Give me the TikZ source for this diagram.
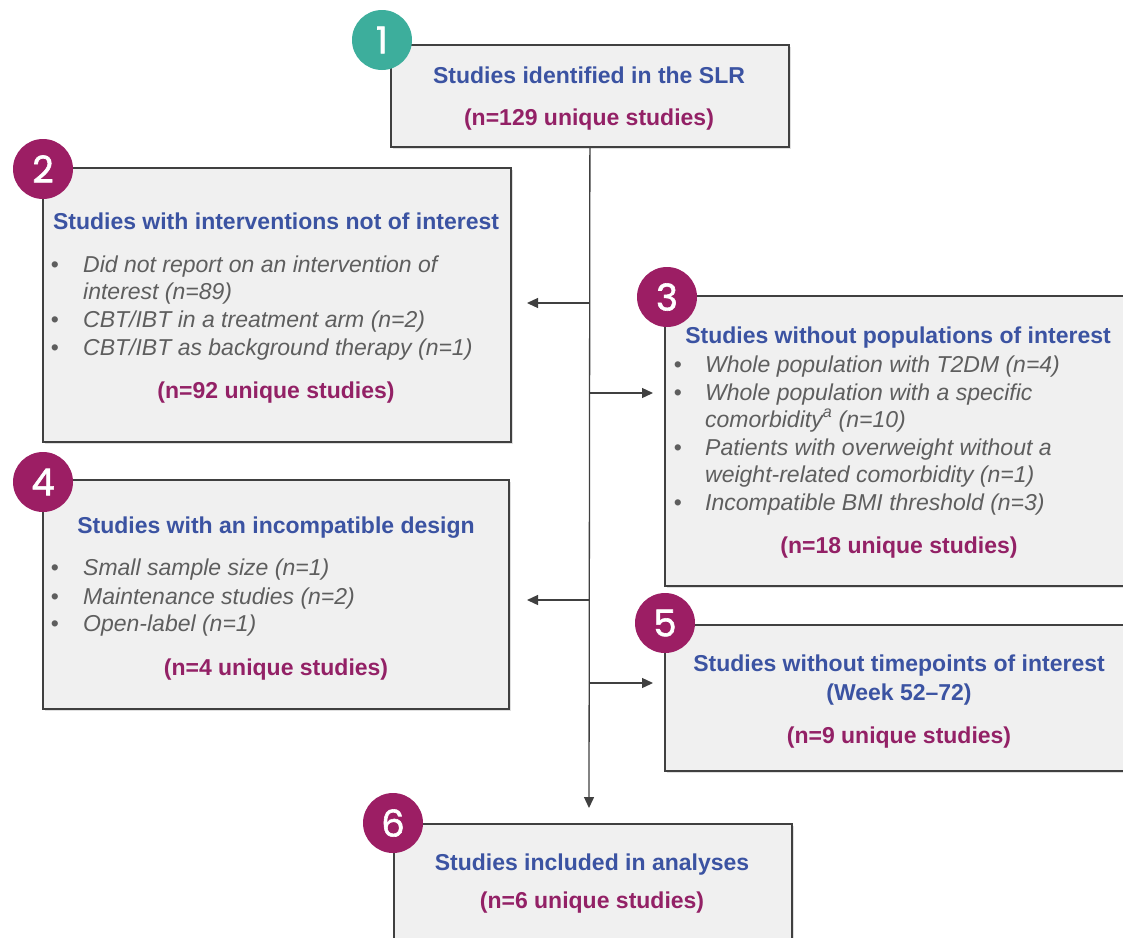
\documentclass[tikz,border=0pt]{standalone}
\usepackage{fontspec}
\setmainfont{Liberation Sans}
\newfontfamily\numfont[FakeBold=1.6]{Poppins}
\usetikzlibrary{calc, shapes, arrows.meta, shadows}

\definecolor{headblue}{HTML}{3B53A2}
\definecolor{countplum}{HTML}{932166}
\definecolor{itemgray}{HTML}{5E5E5E}
\definecolor{circteal}{HTML}{3DAE9C}
\definecolor{circplum}{HTML}{9C1E64}
\definecolor{boxfill}{HTML}{F0F0F0}
\definecolor{linegray}{HTML}{404040}

\tikzset{
	stepbox/.style={rectangle, draw=linegray, line width=1.8pt, fill=boxfill, anchor=north west, inner sep=0pt,
		drop shadow={opacity=0.25, shadow xshift=2pt, shadow yshift=-2pt}},
	numcirc/.style={circle, minimum size=60pt, inner sep=0pt, text=white, font=\numfont\fontsize{37}{37}\selectfont},
	headtxt/.style={anchor=base, text=headblue, font=\bfseries\fontsize{23}{27}\selectfont, inner sep=0pt},
	counttxt/.style={anchor=base, text=countplum, font=\bfseries\fontsize{23}{27}\selectfont, inner sep=0pt},
	itemtxt/.style={anchor=base west, text=itemgray, font=\itshape\fontsize{23}{27}\selectfont, inner sep=0pt},
	bullet/.style={anchor=base, text=itemgray, font=\fontsize{23}{23}\selectfont, inner sep=0pt},
	flow/.style={draw=linegray, line width=1.3pt, -{Triangle[length=11pt,width=10pt]}}
}

\begin{document}
\begin{tikzpicture}[x=1pt,y=-1pt]
	
	\useasboundingbox (0,0) rectangle (1123,937);
	
	% boxes
	\node[stepbox, minimum width=398pt, minimum height=102pt] (box1) at (390,44) {};
	\node[stepbox, minimum width=468pt, minimum height=274pt] (box2) at (42,167) {};
	\node[stepbox, minimum width=480pt, minimum height=290pt] (box3) at (664,295) {};
	\node[stepbox, minimum width=466pt, minimum height=229pt] (box4) at (42,479) {};
	\node[stepbox, minimum width=480pt, minimum height=146pt] (box5) at (664,624) {};
	\node[stepbox, minimum width=398pt, minimum height=140pt] (box6) at (393,823) {};
	
	% numbers
	\node[numcirc, fill=circteal] (num1) at (382,40) {1};
	\node[numcirc, fill=circplum] (num2) at (43,169) {2};
	\node[numcirc, fill=circplum] (num3) at (667,297) {3};
	\node[numcirc, fill=circplum] (num4) at (43,482) {4};
	\node[numcirc, fill=circplum] (num5) at (665,623) {5};
	\node[numcirc, fill=circplum] (num6) at (393,823) {6};
	
	% 1
	\node[headtxt] (head1) at (589,83) {Studies identified in the SLR};
	\node[counttxt] (count1) at (589,125) {(n=129 unique studies)};
	
	% 2
	\node[headtxt] (head2) at (276,229) {Studies with interventions not of interest};
	\foreach \y/\name in {272/a, 327/b, 355/c}
		\node[bullet] (dot2\name) at (55,\y) {•};
	\node[itemtxt] (item2a) at (83,272) {Did not report on an intervention of};
	\node[itemtxt] (item2aa) at (83,299) {interest (n=89)};
	\node[itemtxt] (item2b) at (83,327) {CBT/IBT in a treatment arm (n=2)};
	\node[itemtxt] (item2c) at (83,355) {CBT/IBT as background therapy (n=1)};
	\node[counttxt] (count2) at (276,398) {(n=92 unique studies)};
	
	% 3
	\node[headtxt] (head3) at (898,343) {Studies without populations of interest};
	\foreach \y/\name in {372/a, 400/b, 455/c, 510/d}
		\node[bullet] (dot3\name) at (678,\y) {•};
	\node[itemtxt] (item3a) at (705,372) {Whole population with T2DM (n=4)};
	\node[itemtxt] (item3b) at (705,400) {Whole population with a specific};
	\node[itemtxt] (item3bb) at (705,427) {comorbidity\textsuperscript{a} (n=10)};
	\node[itemtxt] (item3c) at (705,455) {Patients with overweight without a};
	\node[itemtxt] (item3cc) at (705,482) {weight-related comorbidity (n=1)};
	\node[itemtxt] (item3d) at (705,510) {Incompatible BMI threshold (n=3)};
	\node[counttxt] (count3) at (899,553) {(n=18 unique studies)};
	
	% 4
	\node[headtxt] (head4) at (276,533) {Studies with an incompatible design};
	\foreach \y/\name in {575/a, 604/b, 631/c}
		\node[bullet] (dot4\name) at (55,\y) {•};
	\node[itemtxt] (item4a) at (83,575) {Small sample size (n=1)};
	\node[itemtxt] (item4b) at (83,604) {Maintenance studies (n=2)};
	\node[itemtxt] (item4c) at (83,631) {Open-label (n=1)};
	\node[counttxt] (count4) at (276,675) {(n=4 unique studies)};
	
	% 5
	\node[headtxt] (head5) at (899,671) {Studies without timepoints of interest};
	\node[headtxt] (head5b) at (899,700) {(Week 52--72)};
	\node[counttxt] (count5) at (899,743) {(n=9 unique studies)};
	
	% 6
	\node[headtxt] (head6) at (592,870) {Studies included in analyses};
	\node[counttxt] (count6) at (592,908) {(n=6 unique studies)};
	
	% connectors
	\coordinate (trunkend) at (589,808);
	\coordinate (join2) at (589,303);
	\coordinate (join3) at (589,393);
	\coordinate (join4) at (589,600);
	\coordinate (join5) at (589,683);
	\coordinate (tip2) at (527,303);
	\coordinate (tip3) at (653,393);
	\coordinate (tip4) at (527,600);
	\coordinate (tip5) at (653,683);
	
	\draw[flow] (box1.south) -- (trunkend);
	\draw[flow] (join2) -- (tip2);
	\draw[flow] (join3) -- (tip3);
	\draw[flow] (join4) -- (tip4);
	\draw[flow] (join5) -- (tip5);
	
\end{tikzpicture}
\end{document}
